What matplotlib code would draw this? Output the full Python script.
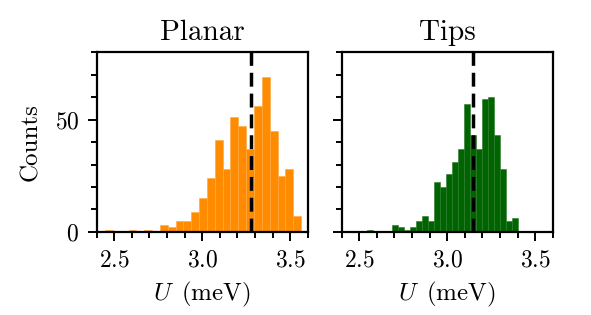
"""Histograms of U for planar vs tip geometries."""
import numpy as np
import matplotlib
matplotlib.use("Agg")
import matplotlib.pyplot as plt
from matplotlib.ticker import MultipleLocator

plt.rcParams.update({"font.family": "cmr10", "mathtext.fontset": "cm",
                     "axes.formatter.use_mathtext": True, "font.size": 17,
                     "axes.linewidth": 1.6})

# bin ranges (meV) and counts, 25 bins each
PLANAR_RANGE = (2.448, 3.561)
PLANAR_COUNTS = [1, 0, 0, 1, 0, 1, 0, 3, 2, 5, 5, 9, 15, 24, 41, 28, 51, 47, 37, 56, 69, 45, 25, 28, 7]
PLANAR_MEAN = 3.279

TIPS_RANGE = (2.547, 3.400)
TIPS_COUNTS = [1, 0, 0, 0, 3, 2, 1, 2, 5, 7, 5, 22, 20, 26, 31, 37, 57, 43, 37, 59, 60, 43, 28, 5, 6]
TIPS_MEAN = 3.148

ORANGE, GREEN = "#ff8c00", "#006400"

fig = plt.figure(figsize=(5.91, 3.15), dpi=100)
ax1 = fig.add_axes([0.1635, 0.2635, 0.3575, 0.5714])
ax2 = fig.add_axes([0.578, 0.2635, 0.3575, 0.5714])

panels = [(ax1, "Planar", PLANAR_RANGE, PLANAR_COUNTS, PLANAR_MEAN, ORANGE, "#ffa640"),
          (ax2, "Tips", TIPS_RANGE, TIPS_COUNTS, TIPS_MEAN, GREEN, "#2a7a2a")]
for ax, title, rng, counts, mean, col, ecol in panels:
    edges = np.linspace(rng[0], rng[1], len(counts) + 1)
    centers = 0.5 * (edges[:-1] + edges[1:])
    ax.hist(centers, bins=edges, weights=counts, color=col, edgecolor=ecol, linewidth=0.4)
    ax.axvline(mean, color="black", ls=(0, (4, 2)), lw=2.5)
    ax.set_xlim(2.4, 3.6); ax.set_ylim(0, 80)
    ax.xaxis.set_major_locator(MultipleLocator(0.5))
    ax.xaxis.set_minor_locator(MultipleLocator(0.1))
    ax.yaxis.set_major_locator(MultipleLocator(50))
    ax.yaxis.set_minor_locator(MultipleLocator(10))
    ax.tick_params(which="both", direction="out", width=1.4, top=False, right=False)
    ax.tick_params(which="major", length=6.5, pad=6)
    ax.tick_params(which="minor", length=4.5)
    ax.set_title(title, fontsize=21, pad=9)
    ax.set_xlabel(r"$U\ \,$(meV)", fontsize=18, labelpad=6)

ax1.set_ylabel("Counts", fontsize=18, labelpad=9)
ax2.set_yticklabels([])

fig.savefig("out.png", dpi=100)
